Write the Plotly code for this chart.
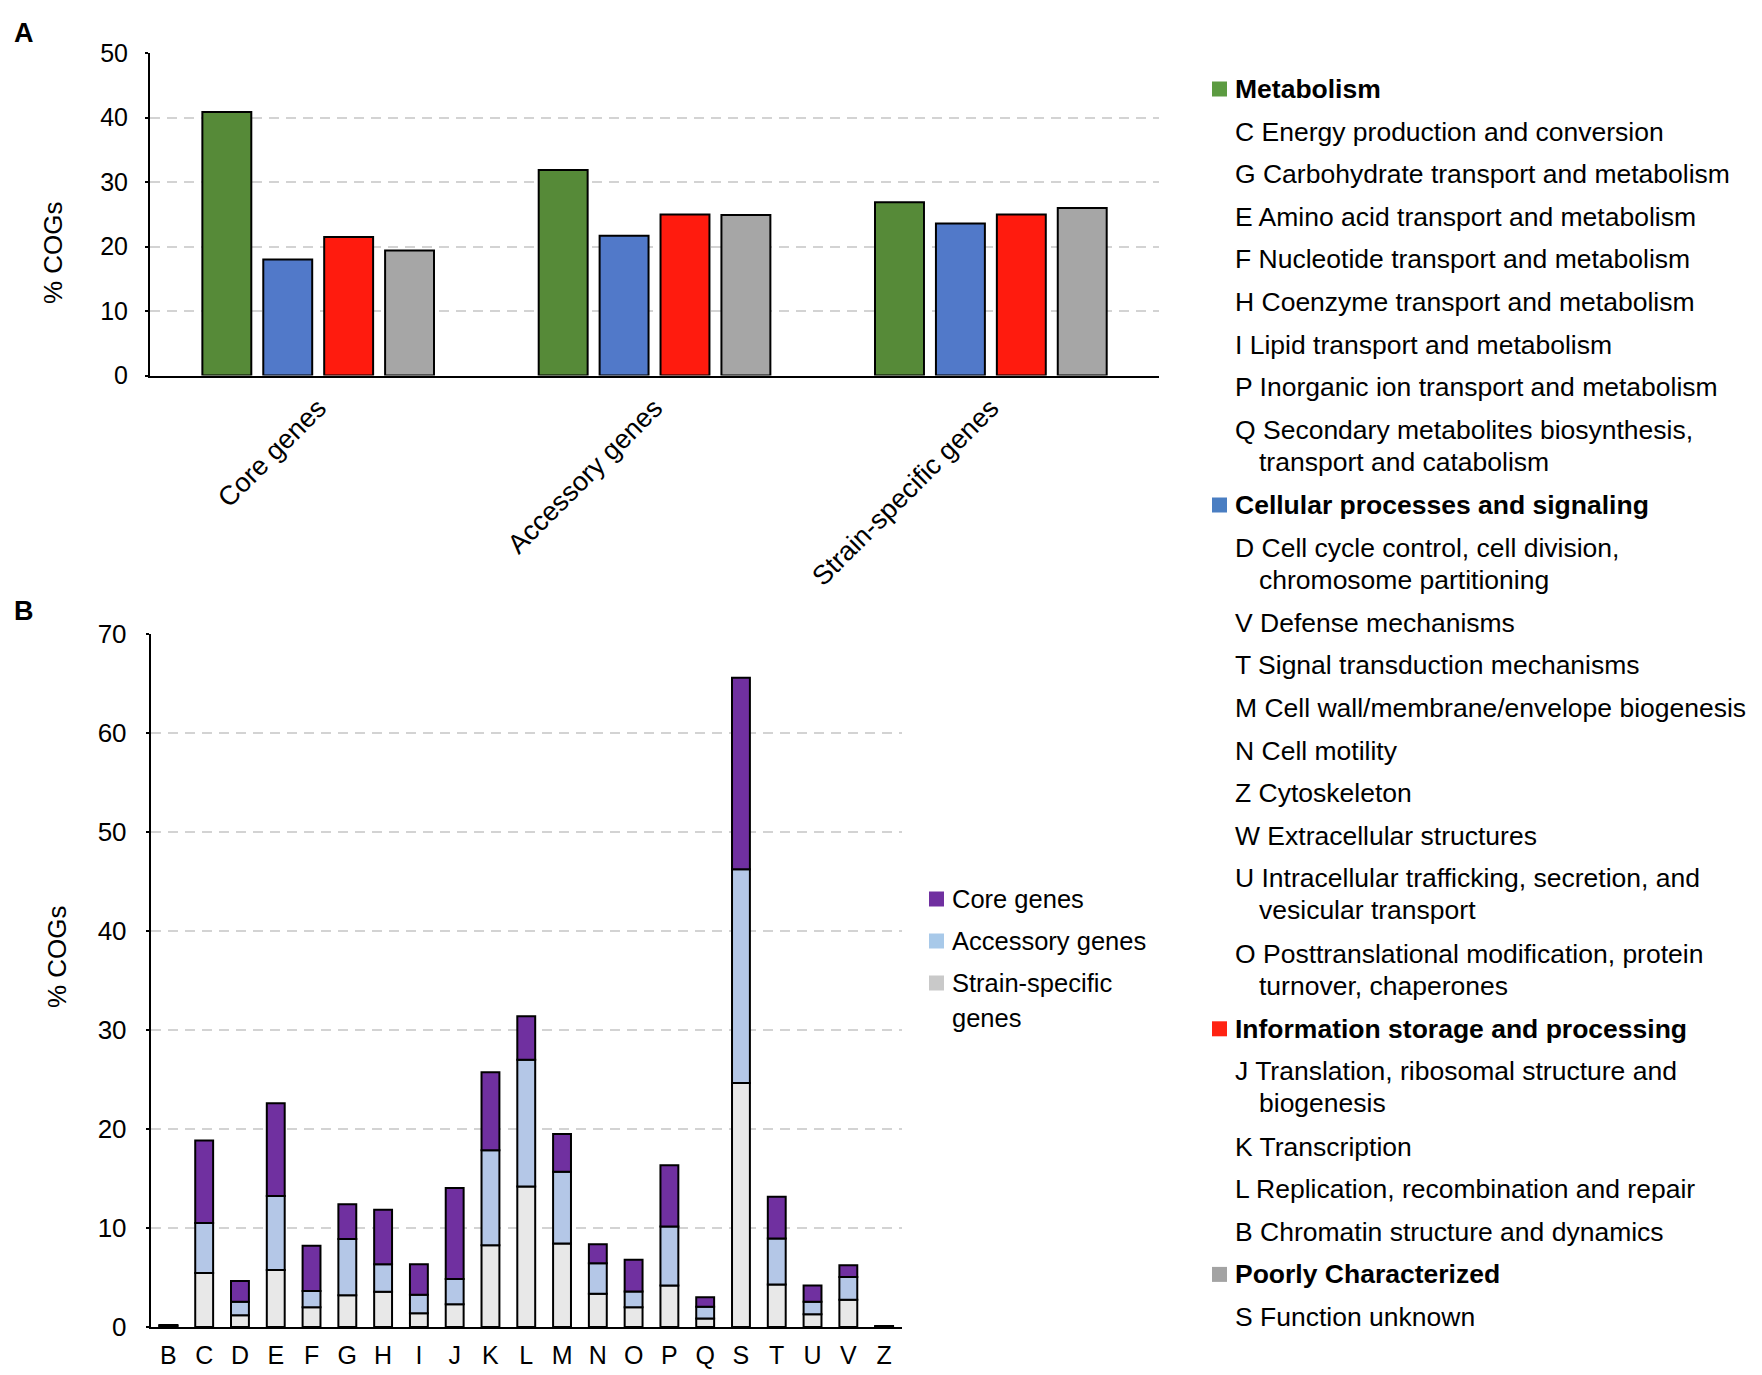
import numpy as np
import plotly.graph_objects as go

W, H = 1762, 1375
FONT = "Liberation Sans, Arial, sans-serif"

# ---------------- Panel A data ----------------
groups_a = ["Core genes", "Accessory genes", "Strain-specific genes"]
metabolism = [40.9, 31.9, 26.9]
cellular = [18.0, 21.7, 23.6]
information = [21.5, 25.0, 25.0]
poorly = [19.4, 24.9, 26.0]

series_a = [
    ("Metabolism", metabolism, "#568A38"),
    ("Cellular processes and signaling", cellular, "#5179C9"),
    ("Information storage and processing", information, "#FF1B0E"),
    ("Poorly Characterized", poorly, "#A6A6A6"),
]

# ---------------- Panel B data ----------------
cogs = ["B", "C", "D", "E", "F", "G", "H", "I", "J", "K", "L",
        "M", "N", "O", "P", "Q", "S", "T", "U", "V", "Z"]
strain_specific = [0.1, 5.45, 1.2, 5.75, 2.0, 3.2, 3.55, 1.4, 2.3, 8.25, 14.2,
                   8.45, 3.35, 2.0, 4.2, 0.85, 24.65, 4.3, 1.3, 2.75, 0.05]
accessory = [0.05, 5.05, 1.35, 7.5, 1.65, 5.7, 2.8, 1.85, 2.55, 9.6, 12.8,
             7.25, 3.1, 1.6, 5.95, 1.2, 21.6, 4.65, 1.25, 2.3, 0.0]
core = [0.05, 8.35, 2.1, 9.35, 4.55, 3.5, 5.5, 3.1, 9.2, 7.9, 4.4,
        3.8, 1.9, 3.2, 6.2, 0.95, 19.35, 4.2, 1.65, 1.2, 0.05]

# ---------------- Right-hand legend text ----------------
cog_legend = [
    ("Metabolism", "#5C9B41", [
        "C Energy production and conversion",
        "G Carbohydrate transport and metabolism",
        "E Amino acid transport and metabolism",
        "F Nucleotide transport and metabolism",
        "H Coenzyme transport and metabolism",
        "I Lipid transport and metabolism",
        "P Inorganic ion transport and metabolism",
        "Q Secondary metabolites biosynthesis,\ntransport and catabolism",
    ]),
    ("Cellular processes and signaling", "#4A7EC2", [
        "D Cell cycle control, cell division,\nchromosome partitioning",
        "V Defense mechanisms",
        "T Signal transduction mechanisms",
        "M Cell wall/membrane/envelope biogenesis",
        "N Cell motility",
        "Z Cytoskeleton",
        "W Extracellular structures",
        "U Intracellular trafficking, secretion, and\nvesicular transport",
        "O Posttranslational modification, protein\nturnover, chaperones",
    ]),
    ("Information storage and processing", "#FF2312", [
        "J Translation, ribosomal structure and\nbiogenesis",
        "K Transcription",
        "L Replication, recombination and repair",
        "B Chromatin structure and dynamics",
    ]),
    ("Poorly Characterized", "#A3A3A3", [
        "S Function unknown",
    ]),
]

legend_b = [("Core genes", "#7030A0"),
            ("Accessory genes", "#A8C9E9"),
            ("Strain-specific\ngenes", "#C9C9C9")]


def px(x):
    return x / W


def py(y):
    return 1 - y / H


fig = go.Figure()

# Panel A grouped bars
bw = 0.1455
offsets = [-0.3443, -0.1632, 0.0179, 0.1990]
for (name, vals, col), off in zip(series_a, offsets):
    fig.add_trace(go.Bar(
        x=groups_a, y=vals, name=name, xaxis="x", yaxis="y",
        width=bw, offset=off,
        marker=dict(color=col, line=dict(color="black", width=2)),
        showlegend=False))

# Panel B stacked bars
s_arr = np.array(strain_specific)
a_arr = np.array(accessory)
c_arr = np.array(core)
stack = [
    ("Strain-specific genes", s_arr, np.zeros_like(s_arr), "#E8E8E8"),
    ("Accessory genes", a_arr, s_arr, "#B4C7E7"),
    ("Core genes", c_arr, s_arr + a_arr, "#7030A0"),
]
for name, vals, base, col in stack:
    fig.add_trace(go.Bar(
        x=cogs, y=vals, base=base, name=name, xaxis="x2", yaxis="y2",
        width=0.5,
        marker=dict(color=col, line=dict(color="black", width=2)),
        showlegend=False))

annotations = []
shapes = []

# panel letters
for lab, y in [("A", 33), ("B", 611)]:
    annotations.append(dict(x=px(24), y=py(y), xref="paper", yref="paper",
                            text=f"<b>{lab}</b>", showarrow=False,
                            font=dict(size=27, family=FONT, color="black"),
                            xanchor="center", yanchor="middle"))
# axis titles
for y, x in [(252.5, 53.5), (957, 57)]:
    annotations.append(dict(x=px(x), y=py(y), xref="paper", yref="paper",
                            text="% COGs", showarrow=False, textangle=-90,
                            font=dict(size=26, family=FONT, color="black"),
                            xanchor="center", yanchor="middle"))

# right-hand COG legend
LS = 26.5
y = 89.0
first = True
step_next = 42.6
for head, col, items in cog_legend:
    if not first:
        y += step_next
    first = False
    shapes.append(dict(type="rect", xref="paper", yref="paper",
                       x0=px(1212), x1=px(1227), y0=py(y - 7.5), y1=py(y + 7.5),
                       fillcolor=col, line=dict(width=0)))
    annotations.append(dict(x=px(1233), y=py(y), xref="paper", yref="paper",
                            text=f"<b>{head}</b>", showarrow=False,
                            font=dict(size=LS, family=FONT, color="black"),
                            xanchor="left", yanchor="middle"))
    step_next = 42.6
    for item in items:
        y += step_next
        parts = item.split("\n")
        annotations.append(dict(x=px(1233), y=py(y), xref="paper", yref="paper",
                                text=parts[0], showarrow=False,
                                font=dict(size=LS, family=FONT, color="black"),
                                xanchor="left", yanchor="middle"))
        step_next = 42.6
        for cont in parts[1:]:
            y += 32
            annotations.append(dict(x=px(1257), y=py(y), xref="paper", yref="paper",
                                    text=cont, showarrow=False,
                                    font=dict(size=LS, family=FONT, color="black"),
                                    xanchor="left", yanchor="middle"))
            step_next = 43.2

# panel B legend
yb = 899
for text, col in legend_b:
    shapes.append(dict(type="rect", xref="paper", yref="paper",
                       x0=px(929), x1=px(944), y0=py(yb - 7.5), y1=py(yb + 7.5),
                       fillcolor=col, line=dict(width=0)))
    parts = text.split("\n")
    annotations.append(dict(x=px(950), y=py(yb), xref="paper", yref="paper",
                            text=parts[0], showarrow=False,
                            font=dict(size=25.5, family=FONT, color="black"),
                            xanchor="left", yanchor="middle"))
    for k, cont in enumerate(parts[1:]):
        annotations.append(dict(x=px(950), y=py(yb + 35 * (k + 1)), xref="paper", yref="paper",
                                text=cont, showarrow=False,
                                font=dict(size=25.5, family=FONT, color="black"),
                                xanchor="left", yanchor="middle"))
    yb += 42

fig.update_layout(
    width=W, height=H,
    margin=dict(l=0, r=0, t=0, b=0, pad=0, autoexpand=False),
    paper_bgcolor="white", plot_bgcolor="white",
    barmode="overlay",
    font=dict(family=FONT, color="black"),
    showlegend=False,
    xaxis=dict(domain=[px(150), px(1159)], anchor="y", automargin=False,
               showline=True, linecolor="black", linewidth=2,
               showgrid=False, ticks="", tickangle=-45,
               tickfont=dict(size=27, family=FONT, color="black"),
               ticklabelstandoff=4),
    yaxis=dict(domain=[py(375.5), py(53.3)], anchor="x", range=[0, 50], automargin=False,
               tickvals=[0, 10, 20, 30, 40, 50],
               showline=True, linecolor="black", linewidth=2,
               showgrid=True, gridcolor="#D3D3D3", gridwidth=2, griddash="10px,7px",
               zeroline=False, ticks="outside", ticklen=3, tickwidth=2, tickcolor="black",
               tickfont=dict(size=25, family=FONT, color="black"),
               ticklabelstandoff=12),
    xaxis2=dict(domain=[px(150.5), px(902)], anchor="y2", automargin=False,
                showline=True, linecolor="black", linewidth=2,
                showgrid=False, ticks="",
                tickfont=dict(size=25, family=FONT, color="black"),
                ticklabelstandoff=5),
    yaxis2=dict(domain=[py(1327), py(634.3)], anchor="x2", range=[0, 70], automargin=False,
                tickvals=[0, 10, 20, 30, 40, 50, 60, 70],
                showline=True, linecolor="black", linewidth=1.5,
                showgrid=True, gridcolor="#D3D3D3", gridwidth=2, griddash="10px,7px",
                zeroline=False, ticks="outside", ticklen=3, tickwidth=1.5, tickcolor="black",
                tickfont=dict(size=26, family=FONT, color="black"),
                ticklabelstandoff=14),
    annotations=annotations,
    shapes=shapes,
)

post = ("document.body.style.margin='0';document.body.style.padding='0';"
        "document.body.style.overflow='hidden';"
        "var d=document.getElementById('{plot_id}');"
        "d.style.position='absolute';d.style.left='0px';d.style.top='0px';")

fig.write_html("out.html", post_script=post, config={"displayModeBar": False})
